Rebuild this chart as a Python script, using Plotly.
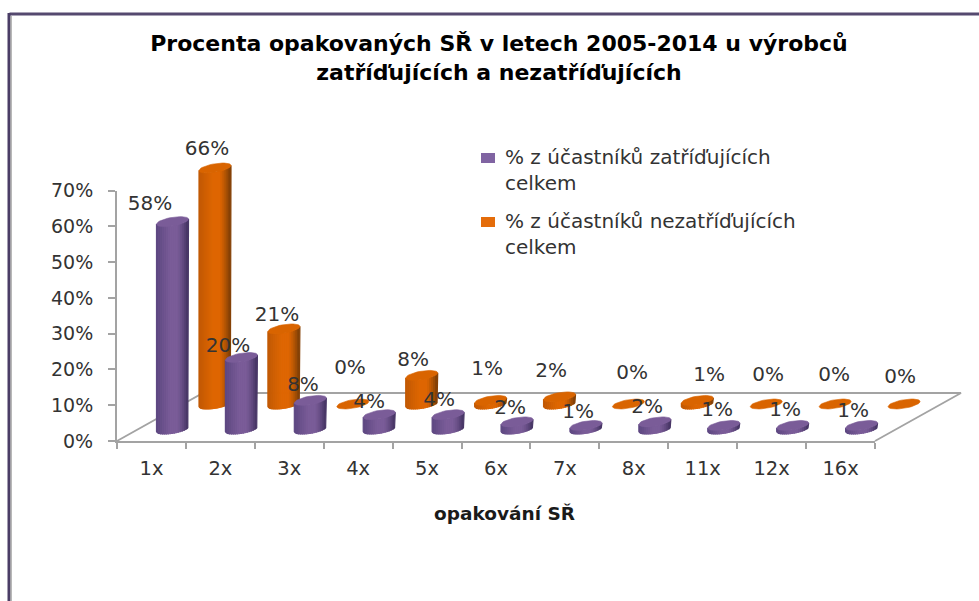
import math
import plotly.graph_objects as go

# ---------- data ----------
categories = ["1x", "2x", "3x", "4x", "5x", "6x", "7x", "8x", "11x", "12x", "16x"]
series_a_name = "% z účastníků zatříďujících<br>celkem"
series_b_name = "% z účastníků nezatříďujících<br>celkem"
series_a_values = [58, 20, 8, 4, 4, 2, 1, 2, 1, 1, 1]
series_b_values = [66, 21, 0, 8, 1, 2, 0, 1, 0, 0, 0]
y_ticks = [0, 10, 20, 30, 40, 50, 60, 70]

# ---------- label nudges (pixels from the cap centre) ----------
a_label_dx = [-22.5, -13.4, -7.3, -10.2, -9.1, -7, -7.9, -7.8, -6.7, -7.6, -8.5]
a_label_dy = [-17, -10.6, -14.4, -11.7, -13.7, -12.9, -12.4, -13.9, -14.4, -14.4, -13.4]
b_label_dx = [-8, -6.9, -2.8, -8.7, -3.6, -8.5, 3.6, 11.7, 1.8, -1.1, -4]
b_label_dy = [-18.3, -13, -35, -14.4, -30.4, -24.9, -30, -24.4, -28, -28, -26]

# ---------- geometry ----------
W, H = 979, 601
LEFT, RIGHT, BOTTOM, TOP = 117, 875, 441, 190.7
N = len(categories)
PX_X = (RIGHT - LEFT) / N
PX_Y = (BOTTOM - TOP) / 70
DEPTH_X, DEPTH_Y = 86, 48
RAD_X, RAD_Y, TILT = 16, 4.3, 2.5
A_DX, A_DY = 172.5 - (LEFT + PX_X / 2), BOTTOM - 429
B_DX, B_DY = 215 - (LEFT + PX_X / 2), BOTTOM - 404
N_STRIPS = 16


def to_x(px_off):
    return px_off / PX_X


def to_y(px_off):
    return px_off / PX_Y


def lerp(c1, c2, t):
    return tuple(c1[k] + (c2[k] - c1[k]) * t for k in range(3))


def rgb(c):
    return "rgb(%d,%d,%d)" % tuple(round(v) for v in c)


def shade(u, dark_l, mid, dark_r):
    if u < -0.1:
        return lerp(dark_l, mid, (u + 1) / 0.9)
    if u < 0.3:
        return mid
    return lerp(mid, dark_r, ((u - 0.3) / 0.7) ** 1.4)


def cylinder_traces(values, dx, dy, dark_l, mid, dark_r, cap):
    traces = []
    for s in range(N_STRIPS):
        u1 = -1 + 2 * s / N_STRIPS
        u2 = -1 + 2 * (s + 1) / N_STRIPS
        us = [u1 + (u2 - u1) * t / 3 for t in range(4)]
        xs, ys = [], []
        for i, v in enumerate(values):
            if v <= 0:
                continue
            cx = i + to_x(dx)
            base = to_y(dy)
            upper = [(cx + to_x(RAD_X * u),
                      base + v + to_y(TILT * u - RAD_Y * math.sqrt(max(0, 1 - u * u)))) for u in us]
            lower = [(cx + to_x(RAD_X * u),
                      base + to_y(TILT * u - RAD_Y * math.sqrt(max(0, 1 - u * u)))) for u in reversed(us)]
            poly = upper + lower + [upper[0]]
            xs += [p[0] for p in poly] + [None]
            ys += [p[1] for p in poly] + [None]
        col = rgb(shade((u1 + u2) / 2, dark_l, mid, dark_r))
        traces.append(go.Scatter(x=xs, y=ys, mode="lines", fill="toself", fillcolor=col,
                                 line=dict(color=col, width=1.2), hoverinfo="skip",
                                 showlegend=False, xaxis="x", yaxis="y"))
    xs, ys = [], []
    for i, v in enumerate(values):
        cx = i + to_x(dx)
        base = to_y(dy)
        for k in range(41):
            t = 2 * math.pi * k / 40
            xs.append(cx + to_x(RAD_X * math.cos(t)))
            ys.append(base + v + to_y(TILT * math.cos(t) + RAD_Y * math.sin(t)))
        xs.append(None)
        ys.append(None)
    traces.append(go.Scatter(x=xs, y=ys, mode="lines", fill="toself", fillcolor=cap,
                             line=dict(color=cap, width=0.6), hoverinfo="skip",
                             showlegend=False, xaxis="x", yaxis="y"))
    return traces


fig = go.Figure()

# floor outline
x0, x1 = -0.5, N - 0.5
fx = [x0, x0 + to_x(DEPTH_X), x1 + to_x(DEPTH_X), x1]
fy = [0, to_y(DEPTH_Y), to_y(DEPTH_Y), 0]
fig.add_trace(go.Scatter(x=fx, y=fy, mode="lines", line=dict(color="#a3a3a3", width=1.8),
                         hoverinfo="skip", showlegend=False, xaxis="x", yaxis="y"))

# back series, then front series
for t in cylinder_traces(series_b_values, B_DX, B_DY, (192, 88, 4), (222, 102, 2), (120, 60, 6), "#d96400"):
    fig.add_trace(t)
for t in cylinder_traces(series_a_values, A_DX, A_DY, (92, 70, 128), (122, 92, 152), (66, 50, 96), "#7a5c98"):
    fig.add_trace(t)

# data labels
label_font = dict(family="DejaVu Sans", size=20, color="#333333")
fig.add_trace(go.Scatter(
    x=[i + to_x(B_DX + d) for i, d in enumerate(b_label_dx)],
    y=[v + to_y(B_DY - d) for v, d in zip(series_b_values, b_label_dy)],
    text=["%d%%" % v for v in series_b_values], mode="text", textposition="middle center",
    textfont=label_font, hoverinfo="skip", showlegend=False, xaxis="x", yaxis="y"))
fig.add_trace(go.Scatter(
    x=[i + to_x(A_DX + d) for i, d in enumerate(a_label_dx)],
    y=[v + to_y(A_DY - d) for v, d in zip(series_a_values, a_label_dy)],
    text=["%d%%" % v for v in series_a_values], mode="text", textposition="middle center",
    textfont=label_font, hoverinfo="skip", showlegend=False, xaxis="x", yaxis="y"))

# trace that carries the visible axes
fig.add_trace(go.Scatter(x=list(range(N)), y=series_a_values, mode="none", hoverinfo="skip",
                         showlegend=False, xaxis="x2", yaxis="y2"))

AXIS_GREY = "#a3a3a3"
legend_font = dict(family="DejaVu Sans", size=20, color="#333333")
fig.update_layout(
    width=W, height=H, margin=dict(l=0, r=0, t=0, b=0, autoexpand=False),
    paper_bgcolor="white", plot_bgcolor="rgba(0,0,0,0)", showlegend=False,
    font=dict(family="DejaVu Sans", size=18.3, color="#333333"),
    title=dict(text="Procenta opakovaných SŘ v letech 2005-2014 u výrobců<br>zatříďujících a nezatříďujících",
               x=499 / W, xanchor="center", y=1 - 51 / H, yanchor="middle",
               font=dict(family="DejaVu Sans", size=22, color="black", weight="bold")),
    xaxis=dict(domain=[0, 1], range=[-0.5 - LEFT / PX_X, -0.5 + (W - LEFT) / PX_X], visible=False),
    yaxis=dict(domain=[0, 1], range=[-(H - BOTTOM) / PX_Y, BOTTOM / PX_Y], visible=False),
    xaxis2=dict(domain=[LEFT / W, RIGHT / W], range=[-0.5, N - 0.5], anchor="y2",
                tickmode="array", tickvals=list(range(N)), ticktext=categories,
                tickfont=dict(family="DejaVu Sans", size=19.5, color="#333333"),
                ticklen=0, showgrid=False, zeroline=False,
                showline=True, linecolor=AXIS_GREY, linewidth=2,
                minor=dict(tickmode="array", tickvals=[i - 0.5 for i in range(N + 1)],
                           ticks="outside", ticklen=6, tickcolor=AXIS_GREY, tickwidth=2, showgrid=False),
                ticklabelstandoff=9),
    yaxis2=dict(domain=[1 - BOTTOM / H, 1 - TOP / H], range=[0, 70], anchor="x2",
                tickmode="array", tickvals=y_ticks, ticktext=["%d%%" % v for v in y_ticks],
                tickfont=dict(family="DejaVu Sans", size=19, color="#333333"),
                ticks="outside", ticklen=7, tickcolor=AXIS_GREY, tickwidth=2,
                showgrid=False, zeroline=False, showline=True, linecolor=AXIS_GREY, linewidth=2,
                ticklabelstandoff=11),
    annotations=[
        dict(text="<b>opakování SŘ</b>", x=504 / W, y=1 - 513 / H, xref="paper", yref="paper",
             showarrow=False, xanchor="center", yanchor="middle",
             font=dict(family="DejaVu Sans", size=18.5, color="#1a1a1a")),
        dict(text=series_a_name, x=503 / W, y=1 - 170 / H, xref="paper", yref="paper", align="left",
             showarrow=False, xanchor="left", yanchor="middle", font=legend_font),
        dict(text=series_b_name, x=503 / W, y=1 - 234 / H, xref="paper", yref="paper", align="left",
             showarrow=False, xanchor="left", yanchor="middle", font=legend_font),
    ],
    shapes=[
        dict(type="line", xref="paper", yref="paper", x0=9.5 / W, x1=1, y0=1 - 14 / H, y1=1 - 14 / H,
             line=dict(color="#55496f", width=3)),
        dict(type="line", xref="paper", yref="paper", x0=9 / W, x1=9 / W, y0=0, y1=1 - 13 / H,
             line=dict(color="#4a3d66", width=3)),
        dict(type="line", xref="paper", yref="paper", x0=11 / W, x1=11 / W, y0=0, y1=1 - 16 / H,
             line=dict(color="#a0a0a0", width=1.5)),
        dict(type="rect", xref="paper", yref="paper", x0=481 / W, x1=495 / W,
             y0=1 - 163 / H, y1=1 - 153 / H, fillcolor="#8064a2", line_width=0),
        dict(type="rect", xref="paper", yref="paper", x0=481 / W, x1=495 / W,
             y0=1 - 227 / H, y1=1 - 217 / H, fillcolor="#e46c0a", line_width=0),
    ],
)

fig.write_html("out.html", config=dict(displayModeBar=False),
               post_script="document.body.style.margin='0';")
